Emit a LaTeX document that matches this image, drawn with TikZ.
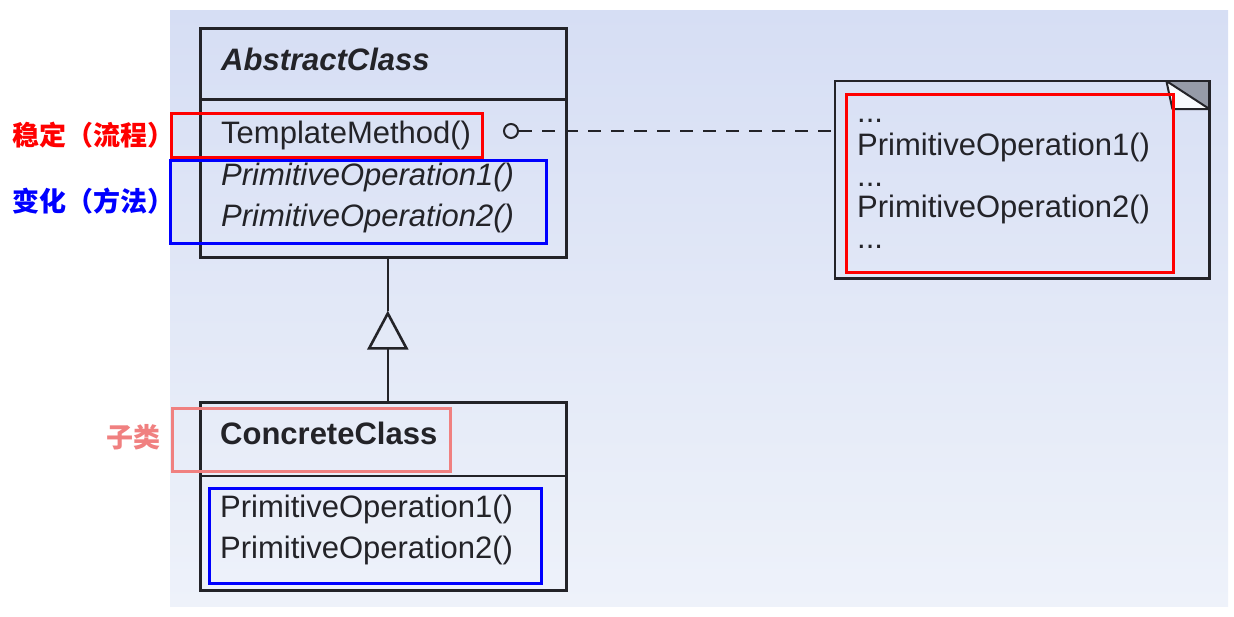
\documentclass[tikz,border=0pt]{standalone}
\usepackage{fontspec}
\setmainfont{Liberation Sans}
\newfontfamily\cjk{Noto Sans CJK SC}
\usetikzlibrary{positioning,arrows.meta}
\definecolor{bgtop}{RGB}{214,222,244}
\definecolor{bgbot}{RGB}{238,242,250}
\definecolor{umlink}{RGB}{35,35,40}
\definecolor{markred}{RGB}{255,0,0}
\definecolor{markblue}{RGB}{0,0,255}
\definecolor{markpink}{RGB}{240,128,128}
\definecolor{earfill}{RGB}{150,155,168}
\tikzset{
  umlline/.style={draw=umlink, line width=2.6pt},
  umlbox/.style={umlline, anchor=north west, inner sep=0pt},
  umltxt/.style={anchor=base west, inner sep=0pt, text=umlink, font=\fontsize{31}{31}\selectfont},
  hlbox/.style={draw, line width=3pt, anchor=north west, inner sep=0pt},
  cjklabel/.style={anchor=west, inner sep=0pt, font=\fontsize{27}{27}\cjk\bfseries}
}
\begin{document}
\begin{tikzpicture}[x=1pt,y=-1pt]
  \useasboundingbox (0,0) rectangle (1234,616);
  \fill[top color=bgtop, bottom color=bgbot] (170,10) rectangle (1228,606);

  \node[umlbox, minimum width=366pt, minimum height=229pt] (abs) at (199,27) {};
  \draw[umlline] ([yshift=-72.5pt]abs.north west) -- ([yshift=-72.5pt]abs.north east);
  \node[umltxt] (absname) at (221,70) {\bfseries\itshape AbstractClass};
  \node[umltxt] (tmpl) at (221,143) {TemplateMethod()};
  \node[umltxt] (absop1) at (221,185) {\itshape PrimitiveOperation1()};
  \node[umltxt] (absop2) at (221,226) {\itshape PrimitiveOperation2()};

  \node[umlbox, minimum width=366pt, minimum height=188pt] (conc) at (199,401) {};
  \draw[umlline] ([yshift=-75pt]conc.north west) -- ([yshift=-75pt]conc.north east);
  \node[umltxt] (concname) at (220,444) {\bfseries ConcreteClass};
  \node[umltxt] (concop1) at (220,517) {PrimitiveOperation1()};
  \node[umltxt] (concop2) at (220,558) {PrimitiveOperation2()};

  \coordinate (gentip) at ([xshift=4.5pt,yshift=-52pt]abs.south);
  \draw[umlline, -{Triangle[open, length=39pt, width=41pt]}] (gentip |- conc.north) -- (gentip);
  \draw[umlline] (gentip) -- (gentip |- abs.south);

  \node[anchor=north west, minimum width=374pt, minimum height=197pt, inner sep=0pt] (note) at (835,81) {};
  \fill[earfill] ([xshift=-43pt]note.north east) -- (note.north east) -- ([yshift=-28pt]note.north east) -- cycle;
  \filldraw[fill=white!60!bgbot, draw=umlink, line width=2pt, line join=round] ([xshift=-43pt]note.north east) -- ([xshift=-37pt,yshift=-28pt]note.north east) -- ([yshift=-28pt]note.north east) -- cycle;
  \draw[umlline] (note.north west) rectangle (note.south east);
  \node[umltxt] (dots1) at (857,122) {...};
  \node[umltxt] (nop1) at (857,155) {PrimitiveOperation1()};
  \node[umltxt] (dots2) at (857,186) {...};
  \node[umltxt] (nop2) at (857,217) {PrimitiveOperation2()};
  \node[umltxt] (dots3) at (857,248) {...};

  \node[circle, draw=umlink, line width=2pt, minimum size=14pt, inner sep=0pt] (knob) at (511,131) {};
  \draw[umlline, dash pattern=on 13pt off 10pt] (knob.east) -- (knob.east -| note.west);

  \node[hlbox, draw=markred, minimum width=311pt, minimum height=44pt] (stablebox) at (170,112) {};
  \node[hlbox, draw=markblue, minimum width=376pt, minimum height=83pt] (varybox) at (169,159) {};
  \node[hlbox, draw=markred, minimum width=327pt, minimum height=178pt] (notebox) at (845,93) {};
  \node[hlbox, draw=markpink, minimum width=278pt, minimum height=63pt] (subbox) at (171,407) {};
  \node[hlbox, draw=markblue, minimum width=332pt, minimum height=95pt] (subopbox) at (208,487) {};

  \node[cjklabel, text=markred] (stablelbl) at (12,135) {稳定（流程）};
  \node[cjklabel, text=markblue] (varylbl) at (12,201) {变化（方法）};
  \node[cjklabel, text=markpink] (sublbl) at (106,437) {子类};
\end{tikzpicture}
\end{document}
